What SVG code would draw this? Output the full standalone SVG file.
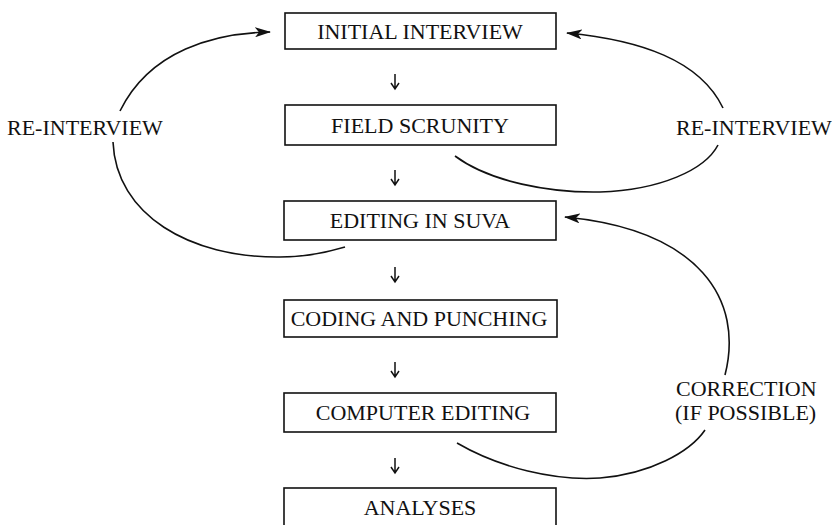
<svg xmlns="http://www.w3.org/2000/svg" width="832" height="525" viewBox="0 0 832 525">
  <defs>
    <style>
      .box { fill: #fff; stroke: #111; stroke-width: 1.6; }
      .lbl { font-family: "Liberation Serif", "Times New Roman", serif; font-size: 22px; fill: #111; }
      .mid { text-anchor: middle; }
      .flow { fill: none; stroke: #111; stroke-width: 1.6; }
      .step { fill: none; stroke: #111; stroke-width: 1.5; }
    </style>
    <marker id="barb" viewBox="0 0 16 10" refX="15" refY="5" markerWidth="16" markerHeight="10" markerUnits="userSpaceOnUse" orient="auto">
      <path d="M0,0 L16,5 L0,10 L4,5 Z" fill="#111"/>
    </marker>
  </defs>

  <rect width="832" height="525" fill="#fff"/>

  <!-- connectors -->
  <g id="connectors">
    <!-- downward step arrows between boxes -->
    <path class="step" d="M395,74 V89 M391,83 L395,89 L399,83"/>
    <path class="step" d="M395,170 V185 M391,179 L395,185 L399,179"/>
    <path class="step" d="M395,267 V282 M391,276 L395,282 L399,276"/>
    <path class="step" d="M395,362 V377 M391,371 L395,377 L399,371"/>
    <path class="step" d="M395,458 V473 M391,467 L395,473 L399,467"/>

    <!-- left re-interview loop -->
    <path class="flow" d="M120,111 C150,50 215,33 270,32" marker-end="url(#barb)"/>
    <path class="flow" d="M113,142 C116,215 190,258 280,257 C305,257 325,253 345,247"/>

    <!-- right re-interview loop -->
    <path class="flow" d="M723,108 C700,60 640,40 567,33" marker-end="url(#barb)"/>
    <path class="flow" d="M455,156 C490,182 550,193 600,192 C660,190 705,170 718,145"/>

    <!-- correction loop -->
    <path class="flow" d="M725,375 C744,300 700,230 565,217" marker-end="url(#barb)"/>
    <path class="flow" d="M457,443 C500,468 555,481 600,478 C650,474 690,452 705,430"/>
  </g>

  <!-- nodes -->
  <g id="initial-interview">
    <rect class="box" x="285" y="13" width="271" height="36"/>
    <text class="lbl mid" x="420" y="39">INITIAL INTERVIEW</text>
  </g>
  <g id="field-scrunity">
    <rect class="box" x="285" y="105" width="271" height="40"/>
    <text class="lbl mid" x="420" y="133">FIELD SCRUNITY</text>
  </g>
  <g id="editing-in-suva">
    <rect class="box" x="284" y="201" width="272" height="39"/>
    <text class="lbl mid" x="420" y="228">EDITING IN SUVA</text>
  </g>
  <g id="coding-and-punching">
    <rect class="box" x="284" y="300" width="273" height="37"/>
    <text class="lbl mid" x="419" y="326">CODING AND PUNCHING</text>
  </g>
  <g id="computer-editing">
    <rect class="box" x="284" y="393" width="272" height="39"/>
    <text class="lbl mid" x="423" y="420">COMPUTER EDITING</text>
  </g>
  <g id="analyses">
    <rect class="box" x="284" y="488" width="272" height="42"/>
    <text class="lbl mid" x="420" y="515">ANALYSES</text>
  </g>

  <!-- loop labels -->
  <g id="label-reinterview-left">
    <text class="lbl" x="7" y="135">RE-INTERVIEW</text>
  </g>
  <g id="label-reinterview-right">
    <text class="lbl" x="676" y="135">RE-INTERVIEW</text>
  </g>
  <g id="label-correction">
    <text class="lbl" x="676" y="396">CORRECTION</text>
    <text class="lbl" x="675" y="420">(IF POSSIBLE)</text>
  </g>
</svg>
